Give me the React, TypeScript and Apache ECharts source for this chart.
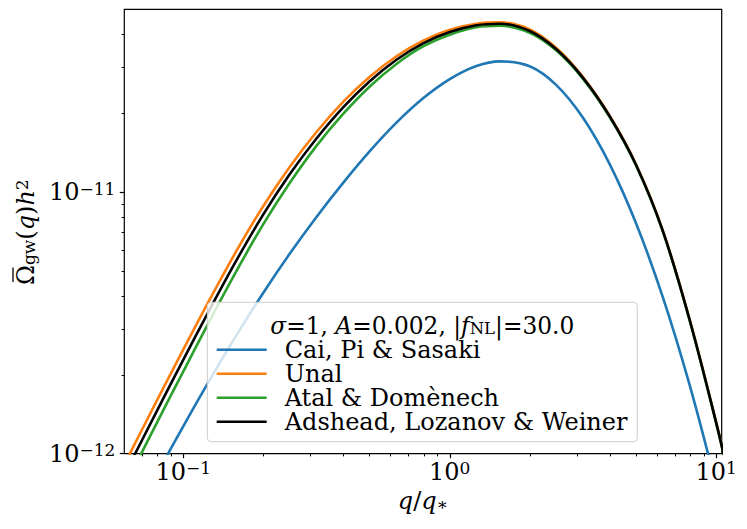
import React, { useEffect, useRef } from "react";
import * as echarts from "echarts";

// ---- data ----
const qValues = [
  0.05623, 0.0631, 0.07943, 0.1, 0.1259, 0.1585, 0.1995, 0.2512, 0.3162, 0.3981, 0.5012, 0.631,
  0.7943, 1.0, 1.259, 1.542, 1.995, 2.512, 3.162, 3.981, 5.012, 6.31, 7.943, 10.0, 10.96,
];

const caiPiSasaki = [
  4.325e-13, 5.388e-13, 8.318e-13, 1.272e-12, 1.919e-12, 2.841e-12, 4.117e-12, 5.821e-12, 8.035e-12,
  1.085e-11, 1.434e-11, 1.843e-11, 2.283e-11, 2.704e-11, 3.034e-11, 3.162e-11, 3.027e-11, 2.564e-11,
  1.923e-11, 1.279e-11, 7.551e-12, 3.95e-12, 1.832e-12, 7.534e-13, 5.105e-13,
];

const unal = [
  7.96e-13, 1.0023e-12, 1.5885e-12, 2.5003e-12, 3.8994e-12, 5.9704e-12, 8.8308e-12, 1.2503e-11,
  1.6982e-11, 2.2131e-11, 2.7606e-11, 3.3073e-11, 3.7931e-11, 4.1783e-11, 4.4055e-11, 4.4566e-11,
  4.1879e-11, 3.5563e-11, 2.7542e-11, 1.9588e-11, 1.2706e-11, 7.112e-12, 3.266e-12, 1.315e-12, 8.85e-13,
];

const atalDomenech = [
  6.531e-13, 8.222e-13, 1.3062e-12, 2.0606e-12, 3.2359e-12, 5.0003e-12, 7.5336e-12, 1.0864e-11,
  1.5031e-11, 1.9907e-11, 2.5351e-11, 3.0903e-11, 3.6058e-11, 3.9994e-11, 4.2658e-11, 4.3251e-11,
  4.0644e-11, 3.4754e-11, 2.7102e-11, 1.9364e-11, 1.2589e-11, 7.0469e-12, 3.2359e-12, 1.3032e-12, 8.77e-13,
];

const adsheadLozanovWeiner = [
  7.261e-13, 9.141e-13, 1.4488e-12, 2.2856e-12, 3.5727e-12, 5.4954e-12, 8.2035e-12, 1.1722e-11,
  1.6032e-11, 2.1086e-11, 2.6546e-11, 3.2063e-11, 3.7068e-11, 4.0926e-11, 4.3451e-11, 4.4055e-11,
  4.1305e-11, 3.5156e-11, 2.7353e-11, 1.9498e-11, 1.2647e-11, 7.0795e-12, 3.2509e-12, 1.3092e-12, 8.81e-13,
];

const seriesNames = ["Cai, Pi & Sasaki", "Unal", "Atal & Domènech", "Adshead, Lozanov & Weiner"];
const seriesValues = [caiPiSasaki, unal, atalDomenech, adsheadLozanovWeiner];
const seriesColors = ["#1f77b4", "#ff7f0e", "#2ca02c", "#000000"];

const xMajorTicks = [0.1, 1, 10];
const xMinorTicks = [
  0.07, 0.08, 0.09, 0.2, 0.3, 0.4, 0.5, 0.6, 0.7, 0.8, 0.9, 2, 3, 4, 5, 6, 7, 8, 9,
];
const yMajorTicks = [1e-12, 1e-11];
const yMinorTicks = [2e-12, 3e-12, 4e-12, 5e-12, 6e-12, 7e-12, 8e-12, 9e-12, 2e-11, 3e-11, 4e-11];

const X_MIN = 0.0601;
const X_MAX = 10.48;
const Y_MIN = 1e-12;
const Y_MAX = 5e-11;

const legendTitle = "{i|\u03C3}{n|=1, }{i|A}{n|=0.002, |}{i|f}{sub|NL}{n||=30.0}";
const xTitle = "{i|q}{n|/}{i|q}{sub|\u2217}";
const yTitle = "{n|\u03A9}{sub|gw}{n|(}{i|q}{n|)}{i|h}{sup|2}";

const FONT = "DejaVu Serif";
const FS = 24;
const FS_SMALL = 17;

const mk = (size: number, extra: any) => ({
  fontFamily: FONT,
  fontSize: size,
  lineHeight: 24,
  verticalAlign: "bottom",
  color: "#000",
  fill: "#000",
  ...extra,
});

const makeRich = (size: number, small: number) => ({
  n: mk(size, {}),
  b: mk(size, {}),
  i: mk(size, { fontStyle: "italic" }),
  s: mk(small, { lineHeight: 10, verticalAlign: "top" }),
  sup: mk(small, { lineHeight: 10, verticalAlign: "top" }),
  sub: mk(small, { lineHeight: 10, verticalAlign: "bottom" }),
});

const richStyles = makeRich(FS, FS_SMALL);
const titleRich = makeRich(23.3, 16.5);

const powLabel = (v: number) => {
  const e = Math.round(v);
  return `{b|10}{s|${e < 0 ? "\u2212" : ""}${Math.abs(e)}}`;
};

const lg = (v: number) => Math.log10(v);

export default function App() {
  const ref = useRef<HTMLDivElement>(null);

  useEffect(() => {
    if (!ref.current) return;
    const chart = echarts.init(ref.current, null, { renderer: "svg" });

    const hiddenAxis = {
      axisLine: { show: false, onZero: false },
      axisTick: { show: false },
      axisLabel: { show: false },
      splitLine: { show: false },
    };

    const tickAxis = (dimMin: number, dimMax: number, position: string, extra: any) => ({
      type: "value",
      position,
      min: lg(dimMin),
      max: lg(dimMax),
      axisLine: { show: false, onZero: false },
      splitLine: { show: false },
      ...extra,
    });

    const option: any = {
      animation: false,
      backgroundColor: "#ffffff",
      grid: {
        left: 124.3,
        top: 9.3,
        width: 597.4,
        height: 444.4,
        show: true,
        borderColor: "#000",
        borderWidth: 1.2,
        backgroundColor: "transparent",
        containLabel: false,
        outerBoundsMode: "none",
      },
      xAxis: [
        { type: "log", logBase: 10, min: X_MIN, max: X_MAX, position: "bottom", ...hiddenAxis },
        tickAxis(X_MIN, X_MAX, "bottom", {
          axisTick: {
            show: true,
            customValues: xMajorTicks.map(lg),
            length: 4.5,
            lineStyle: { color: "#000", width: 1.2 },
          },
          axisLabel: {
            show: true,
            customValues: xMajorTicks.map(lg),
            formatter: powLabel,
            rich: richStyles,
            margin: 6,
          },
          name: xTitle,
          nameLocation: "middle",
          nameGap: 27,
          nameTextStyle: { rich: richStyles },
        }),
        tickAxis(X_MIN, X_MAX, "bottom", {
          axisLabel: { show: false },
          axisTick: {
            show: true,
            customValues: xMinorTicks.map(lg),
            length: 2.7,
            lineStyle: { color: "#000", width: 1 },
          },
        }),
      ],
      yAxis: [
        { type: "log", logBase: 10, min: Y_MIN, max: Y_MAX, position: "left", ...hiddenAxis },
        tickAxis(Y_MIN, Y_MAX, "left", {
          axisTick: {
            show: true,
            customValues: yMajorTicks.map(lg),
            length: 4.5,
            lineStyle: { color: "#000", width: 1.2 },
          },
          axisLabel: {
            show: true,
            customValues: yMajorTicks.map(lg),
            formatter: powLabel,
            rich: richStyles,
            margin: 9,
          },
        }),
        tickAxis(Y_MIN, Y_MAX, "left", {
          axisLabel: { show: false },
          axisTick: {
            show: true,
            customValues: yMinorTicks.map(lg),
            length: 2.7,
            lineStyle: { color: "#000", width: 1 },
          },
        }),
      ],
      legend: {
        data: seriesNames,
        orient: "vertical",
        left: 216.7,
        top: 337.8,
        itemWidth: 50,
        itemHeight: 2.6,
        itemGap: 0,
        padding: 0,
        icon: "rect",
        selectedMode: false,
        z: 101,
        textStyle: {
          fontFamily: FONT,
          fontSize: FS,
          color: "#000",
          lineHeight: 23,
          padding: [0, 0, 0, 13],
        },
      },
      graphic: [
        {
          type: "rect",
          z: 100,
          shape: { x: 207.3, y: 302.3, width: 430, height: 139.4, r: 4 },
          style: { fill: "rgba(255,255,255,0.8)", stroke: "#cccccc", lineWidth: 1 },
        },
        {
          type: "text",
          z: 101,
          x: 422.3,
          y: 325,
          style: {
            text: legendTitle,
            rich: titleRich,
            align: "center",
            verticalAlign: "middle",
            fill: "#000",
            fontFamily: FONT,
            fontSize: 23.3,
          },
        },
        {
          // y-axis title, rotated; the short line is the bar over Omega
          type: "group",
          x: 25.6,
          y: 285,
          rotation: Math.PI / 2,
          z: 50,
          children: [
            {
              type: "text",
              x: 0,
              y: 0,
              style: {
                text: yTitle,
                rich: richStyles,
                align: "left",
                verticalAlign: "middle",
                fill: "#000",
                fontFamily: FONT,
                fontSize: FS,
              },
            },
            {
              type: "line",
              shape: { x1: 3, y1: -12.6, x2: 17.5, y2: -12.6 },
              style: { stroke: "#000", lineWidth: 1.3 },
            },
          ],
        },
      ],
      series: seriesNames.map((name, k) => ({
        name,
        type: "line",
        xAxisIndex: 0,
        yAxisIndex: 0,
        data: qValues.map((q, i) => [q, seriesValues[k][i]]),
        smooth: 0.35,
        symbol: "none",
        showSymbol: false,
        clip: true,
        z: 2 + k,
        lineStyle: { color: seriesColors[k], width: 2.6 },
        itemStyle: { color: seriesColors[k] },
        emphasis: { disabled: true },
      })),
    };

    chart.setOption(option);
    return () => chart.dispose();
  }, []);

  return (
    <div
      ref={ref}
      style={{ position: "fixed", left: 0, top: 0, width: 747, height: 529, background: "#fff" }}
    />
  );
}
